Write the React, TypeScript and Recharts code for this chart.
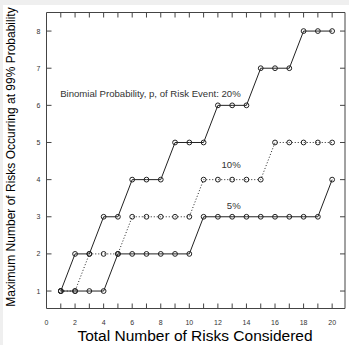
import React from "react";
import {
  LineChart,
  Line,
  XAxis,
  YAxis,
  ReferenceDot,
} from "recharts";

// risks considered and the max count at 99% for each event probability
const riskCounts = [1, 2, 3, 4, 5, 6, 7, 8, 9, 10, 11, 12, 13, 14, 15, 16, 17, 18, 19, 20];
const p20 = [1, 2, 2, 3, 3, 4, 4, 4, 5, 5, 5, 6, 6, 6, 7, 7, 7, 8, 8, 8];
const p10 = [1, 1, 2, 2, 2, 3, 3, 3, 3, 3, 4, 4, 4, 4, 4, 5, 5, 5, 5, 5];
const p05 = [1, 1, 1, 1, 2, 2, 2, 2, 2, 2, 3, 3, 3, 3, 3, 3, 3, 3, 3, 4];

const xTicks = [0, 1, 2, 3, 4, 5, 6, 7, 8, 9, 10, 11, 12, 13, 14, 15, 16, 17, 18, 19, 20];
const yTicks = [1, 2, 3, 4, 5, 6, 7, 8];

const notes = [
  { text: "Binomial Probability, p, of Risk Event: 20%", x: 13.6, y: 6.33 },
  { text: "10%", x: 13.6, y: 4.4 },
  { text: "5%", x: 13.6, y: 3.31 },
];

const rows = riskCounts.map((n, i) => ({ n, p20: p20[i], p10: p10[i], p05: p05[i] }));

// plot box edges in px
const LEFT = 46.5;
const TOP = 12.5;
const RIGHT = 345;
const BOTTOM = 308.5;
const TICK = 5;

const FONT = "'Liberation Sans', Arial, sans-serif";
const INK = "#333";
const AXIS = "#444";

const X_DOMAIN: [number, number] = [0, 20.9];
const Y_DOMAIN: [number, number] = [0.53, 8.5];

function BottomTick(props: any) {
  const { x, payload } = props;
  const v = payload.value;
  return (
    <g>
      {v > 0 && <line x1={x} x2={x} y1={BOTTOM} y2={BOTTOM - TICK} stroke={AXIS} />}
      {v % 2 === 0 && (
        <text x={x} y={322.5} textAnchor="middle" dominantBaseline="central" fontSize={7} fontFamily={FONT} fill={INK}>
          {v}
        </text>
      )}
    </g>
  );
}

function TopTick(props: any) {
  const { x, payload } = props;
  if (payload.value <= 0) return <g />;
  return <line x1={x} x2={x} y1={TOP} y2={TOP + TICK} stroke={AXIS} />;
}

function LeftTick(props: any) {
  const { y, payload } = props;
  return (
    <g>
      <line x1={LEFT} x2={LEFT + TICK} y1={y} y2={y} stroke={AXIS} />
      <text x={38.5} y={y} textAnchor="middle" dominantBaseline="central" fontSize={7} fontFamily={FONT} fill={INK}>
        {payload.value}
      </text>
    </g>
  );
}

function RightTick(props: any) {
  const { y } = props;
  return <line x1={RIGHT} x2={RIGHT - TICK} y1={y} y2={y} stroke={AXIS} />;
}

const dotStyle = { r: 2.4, fill: "none", stroke: "#222", strokeWidth: 1, strokeDasharray: "none" };

export default function App() {
  return (
    <div style={{ position: "absolute", left: 0, top: 0, width: 349, height: 345, background: "#efefef" }}>
      <div style={{ position: "absolute", left: 3, top: 5, right: 0, bottom: 0, background: "#fff" }} />
      <div style={{ position: "absolute", left: 0, top: 0 }}>
        <LineChart
          width={349}
          height={345}
          data={rows}
          margin={{ top: TOP - 1, right: 349 - RIGHT - 1, bottom: 345 - BOTTOM - 30, left: LEFT - 40 }}
        >
          <XAxis
            xAxisId="b"
            dataKey="n"
            type="number"
            domain={X_DOMAIN}
            ticks={xTicks}
            interval={0}
            allowDataOverflow
            height={30}
            axisLine={{ stroke: AXIS }}
            tickLine={false}
            tick={<BottomTick />}
          />
          <XAxis
            xAxisId="t"
            orientation="top"
            dataKey="n"
            type="number"
            domain={X_DOMAIN}
            ticks={xTicks}
            interval={0}
            allowDataOverflow
            height={1}
            axisLine={{ stroke: AXIS }}
            tickLine={false}
            tick={<TopTick />}
          />
          <YAxis
            yAxisId="l"
            type="number"
            domain={Y_DOMAIN}
            ticks={yTicks}
            interval={0}
            allowDataOverflow
            width={40}
            axisLine={{ stroke: AXIS }}
            tickLine={false}
            tick={<LeftTick />}
          />
          <YAxis
            yAxisId="r"
            orientation="right"
            type="number"
            domain={Y_DOMAIN}
            ticks={yTicks}
            interval={0}
            allowDataOverflow
            width={1}
            axisLine={{ stroke: AXIS }}
            tickLine={false}
            tick={<RightTick />}
          />
          <Line
            xAxisId="b"
            yAxisId="l"
            type="linear"
            dataKey="p05"
            stroke="#222"
            strokeWidth={1}
            dot={dotStyle}
            isAnimationActive={false}
          />
          <Line
            xAxisId="b"
            yAxisId="l"
            type="linear"
            dataKey="p10"
            stroke="#222"
            strokeWidth={1}
            strokeDasharray="1 2"
            dot={dotStyle}
            isAnimationActive={false}
          />
          <Line
            xAxisId="b"
            yAxisId="l"
            type="linear"
            dataKey="p20"
            stroke="#222"
            strokeWidth={1}
            dot={dotStyle}
            isAnimationActive={false}
          />
          {notes.map((note) => (
            <ReferenceDot
              key={note.text}
              xAxisId="b"
              yAxisId="l"
              x={note.x}
              y={note.y}
              r={0}
              ifOverflow="visible"
              shape={(p: any) => (
                <text
                  x={p.cx}
                  y={p.cy}
                  textAnchor="end"
                  dominantBaseline="central"
                  fontSize={9.6}
                  fontFamily={FONT}
                  fill={INK}
                >
                  {note.text}
                </text>
              )}
            />
          ))}
          <text x={195} y={335} textAnchor="middle" dominantBaseline="central" fontSize={15.5} fontFamily={FONT} fill="#000">
            Total Number of Risks Considered
          </text>
          <text
            x={11}
            y={157}
            transform="rotate(-90 11 157)"
            textAnchor="middle"
            dominantBaseline="central"
            fontSize={12}
            fontFamily={FONT}
            fill="#000"
          >
            Maximum Number of Risks Occurring at 99% Probability
          </text>
        </LineChart>
      </div>
    </div>
  );
}
